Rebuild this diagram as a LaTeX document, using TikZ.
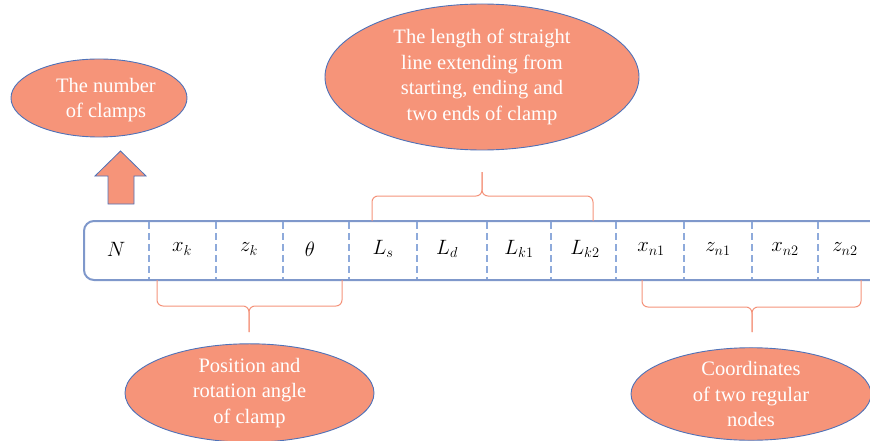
\documentclass[tikz,border=0pt]{standalone}
\usepackage{fontspec}
\setmainfont{Liberation Serif}
\usetikzlibrary{shapes.geometric}
\definecolor{salmon}{HTML}{F69479}
\definecolor{edgeblue}{HTML}{4F72B8}
\definecolor{tabblue}{HTML}{7F98CB}
\definecolor{dashblue}{HTML}{8EAADB}
\definecolor{bracecol}{HTML}{F4937B}
\tikzset{
  bubble/.style={ellipse, fill=salmon, draw=edgeblue, line width=0.9pt, inner sep=0pt,
    text=white, align=center, font=\fontsize{20.5}{25.5}\selectfont},
  cell/.style={inner sep=0pt, font=\fontsize{21.5}{25}\selectfont},
  divider/.style={dashblue, dashed, dash pattern=on 7pt off 4pt, line width=1.1pt},
  bracepath/.style={bracecol, line width=1pt, rounded corners=6pt},
}
\begin{document}
\begin{tikzpicture}[x=1pt,y=-1pt]
\useasboundingbox (0,0) rectangle (870,441);
\clip (0,0) rectangle (870,441);
% table
\draw[tabblue, line width=2pt, rounded corners=10pt] (890,221) -- (84,221) -- (84,280) -- (890,280);
\foreach \x in {149,216,283,349,417,487,551,616,684,752,818}
  \draw[divider] (\x,222) -- (\x,279);
\node[cell] (N)   at (116,249) {$N$};
\node[cell] (xk)  at (182,249) {$x_k$};
\node[cell] (zk)  at (249,249) {$z_k$};
\node[cell] (th)  at (310,249) {$\theta$};
\node[cell] (Ls)  at (383,249) {$L_s$};
\node[cell] (Ld)  at (447,249) {$L_d$};
\node[cell] (Lk1) at (519,249) {$L_{k1}$};
\node[cell] (Lk2) at (585,249) {$L_{k2}$};
\node[cell] (xn1) at (651,249) {$x_{n1}$};
\node[cell] (zn1) at (718,249) {$z_{n1}$};
\node[cell] (xn2) at (785,249) {$x_{n2}$};
\node[cell] (zn2) at (845,249) {$z_{n2}$};
% bubbles
\node[bubble, minimum width=176pt, minimum height=78pt] (num) at (99,98) {};
\node[text=white, align=center, font=\fontsize{20.5}{25.5}\selectfont] (numtext) at (106,100) {The number\\of clamps};
\node[bubble, minimum width=314pt, minimum height=146pt] (len) at (482,77)
  {The length of straight\\line extending from\\starting, ending and\\two ends of clamp};
\node[bubble, minimum width=249pt, minimum height=94pt] (pos) at (249.5,393)
  {Position and\\rotation angle\\of clamp};
\node[bubble, minimum width=240pt, minimum height=92pt] (coo) at (751,394)
  {Coordinates\\of two regular\\nodes};
% arrow
\draw[fill=salmon, draw=edgeblue, line width=0.8pt]
  (108,204) -- (108,176) -- (95,176) -- (120.5,151) -- (146,176) -- (134,176) -- (134,204) -- cycle;
% braces
\coordinate (t1) at (372,221); \coordinate (t2) at (593,221); \coordinate (tt) at (482,172);
\draw[bracepath] (t1) -- (372,196) -- (482,196) -- (tt);
\draw[bracepath] (t2) -- (593,196) -- (482,196) -- (tt);
\coordinate (b1) at (157,280); \coordinate (b2) at (342,280); \coordinate (bt) at (249,332);
\draw[bracepath] (b1) -- (157,306) -- (249,306) -- (bt);
\draw[bracepath] (b2) -- (342,306) -- (249,306) -- (bt);
\coordinate (c1) at (642,280); \coordinate (c2) at (861,280); \coordinate (ct) at (752,332);
\draw[bracepath] (c1) -- (642,307) -- (752,307) -- (ct);
\draw[bracepath] (c2) -- (861,307) -- (752,307) -- (ct);
\end{tikzpicture}
\end{document}
